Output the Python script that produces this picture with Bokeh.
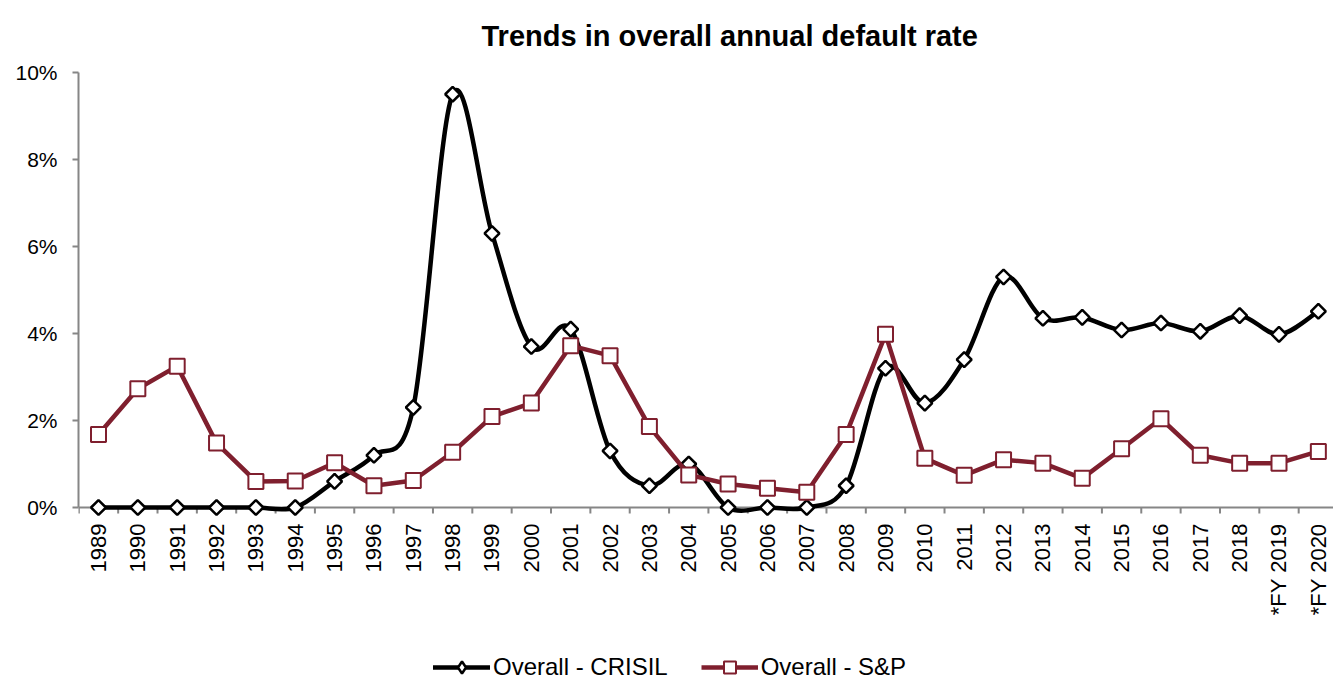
import math
from bokeh.plotting import figure
from bokeh.models import (Range1d, FixedTicker, PrintfTickFormatter, Legend,
                          LegendItem, ColumnDataSource, Span)
from bokeh.core.properties import value
from bokeh.embed import file_html
from bokeh.resources import INLINE

# ---------------- data ----------------
years = ["1989", "1990", "1991", "1992", "1993", "1994", "1995", "1996", "1997",
         "1998", "1999", "2000", "2001", "2002", "2003", "2004", "2005", "2006",
         "2007", "2008", "2009", "2010", "2011", "2012", "2013", "2014", "2015",
         "2016", "2017", "2018", "*FY 2019", "*FY 2020"]
crisil = [0, 0, 0, 0, 0, 0, 0.6, 1.2, 2.3, 9.5, 6.3, 3.7, 4.1, 1.3, 0.5, 1.0,
          0, 0, 0, 0.5, 3.2, 2.4, 3.4, 5.3, 4.35, 4.37, 4.08, 4.24, 4.05, 4.41,
          3.98, 4.51]
sp = [1.68, 2.73, 3.25, 1.48, 0.60, 0.61, 1.03, 0.50, 0.62, 1.27, 2.09, 2.40,
      3.72, 3.49, 1.86, 0.75, 0.54, 0.44, 0.35, 1.68, 3.98, 1.13, 0.74, 1.10,
      1.02, 0.67, 1.35, 2.04, 1.20, 1.02, 1.02, 1.29]
y_ticks = [0, 2, 4, 6, 8, 10]

MAROON = "#7F1F2E"
AXIS_GRAY = "#868686"
FONT = "Liberation Sans"

# layout (pixels)
W, H = 1333, 682
LEFT = 78
TOP, ZERO_PX = 72, 507          # 10 % line and 0 % line on screen
Y_MAX = 10
px_per_unit = (ZERO_PX - TOP) / Y_MAX
y_min = -(H - ZERO_PX) / px_per_unit
tick_len = 6 / px_per_unit

xs = list(range(len(years)))
n = len(xs)

# smoothed (Excel-like) curve for CRISIL: Catmull-Rom -> cubic Bezier segments
seg = dict(x0=[], y0=[], x1=[], y1=[], cx0=[], cy0=[], cx1=[], cy1=[])
for i in range(n - 1):
    i0, i1, i2, i3 = max(i - 1, 0), i, i + 1, min(i + 2, n - 1)
    seg["x0"].append(xs[i1]); seg["y0"].append(crisil[i1])
    seg["x1"].append(xs[i2]); seg["y1"].append(crisil[i2])
    seg["cx0"].append(xs[i1] + (xs[i2] - xs[i0]) / 6.0)
    seg["cy0"].append(crisil[i1] + (crisil[i2] - crisil[i0]) / 6.0)
    seg["cx1"].append(xs[i2] - (xs[i3] - xs[i1]) / 6.0)
    seg["cy1"].append(crisil[i2] - (crisil[i3] - crisil[i1]) / 6.0)

p = figure(width=W, height=H, output_backend="svg", toolbar_location=None,
           x_range=Range1d(-0.508, 31.385), y_range=Range1d(y_min, Y_MAX),
           x_axis_location=None,
           min_border_left=LEFT, min_border_right=0, min_border_top=TOP,
           min_border_bottom=0)
p.outline_line_color = None
p.xgrid.visible = False
p.ygrid.visible = False

p.title.text = "Trends in overall annual default rate"
p.title.text_font = FONT
p.title.text_font_size = "29px"
p.title.text_font_style = "bold"
p.title.align = "left"
p.title.offset = 481 - LEFT
p.title.vertical_align = "top"
p.title.text_color = "black"
p.title.standoff = 38

# y axis
ya = p.yaxis[0]
ya.ticker = FixedTicker(ticks=y_ticks)
ya.formatter = PrintfTickFormatter(format="%d%%")
ya.bounds = (0, Y_MAX)
ya.axis_line_color = AXIS_GRAY
ya.axis_line_width = 2
ya.major_tick_line_color = AXIS_GRAY
ya.major_tick_line_width = 2
ya.major_tick_out = 6
ya.major_tick_in = 0
ya.minor_tick_line_color = None
ya.major_label_standoff = 15
ya.major_label_text_font = FONT
ya.major_label_text_font_size = "21px"
ya.major_label_text_color = "black"

# category axis drawn at 0 %: line, tick marks between categories, labels
p.add_layout(Span(location=0, dimension="width", line_color=AXIS_GRAY,
                  line_width=2, level="underlay"))
tick_x = [i - 0.5 for i in range(n + 1)]
p.segment(x0=tick_x, y0=[0] * len(tick_x), x1=tick_x, y1=[-tick_len] * len(tick_x),
          line_color=AXIS_GRAY, line_width=2, level="underlay")
p.text(x=xs, y=[0] * n, text=years, angle=math.pi / 2, text_align="right",
       text_baseline="middle", y_offset=16, text_font=value(FONT),
       text_font_size="22px", text_color="black")

# CRISIL series
src = ColumnDataSource(seg)
r_c_line = p.bezier(x0="x0", y0="y0", x1="x1", y1="y1", cx0="cx0", cy0="cy0",
                    cx1="cx1", cy1="cy1", source=src, line_color="black",
                    line_width=4.5, line_cap="round")
# diamond renderer (used for the legend swatch; hidden under the plot markers)
r_c_leg = p.scatter(xs, crisil, marker="diamond", size=12, fill_color="white",
                    line_color="black", line_width=2.5)
r_c_mark = p.scatter(xs, crisil, marker="square", angle=math.pi / 4, size=10.5,
                     fill_color="white", line_color="black", line_width=2.5)

# S&P series
r_s_line = p.line(xs, sp, line_color=MAROON, line_width=4.5, line_join="round")
r_s_mark = p.scatter(xs, sp, marker="square", size=15, fill_color="white",
                     line_color=MAROON, line_width=2)

legend = Legend(items=[LegendItem(label="Overall - CRISIL", renderers=[r_c_line, r_c_leg]),
                       LegendItem(label="Overall - S&P", renderers=[r_s_line, r_s_mark])],
                orientation="horizontal", location=(355, 0),
                glyph_width=57, glyph_height=30, label_standoff=3, spacing=33,
                padding=5, margin=0, border_line_color=None,
                background_fill_alpha=0, label_text_font=FONT,
                label_text_font_size="24px", label_text_color="black")
p.add_layout(legend)

open("out.html", "w").write(file_html(p, INLINE))
